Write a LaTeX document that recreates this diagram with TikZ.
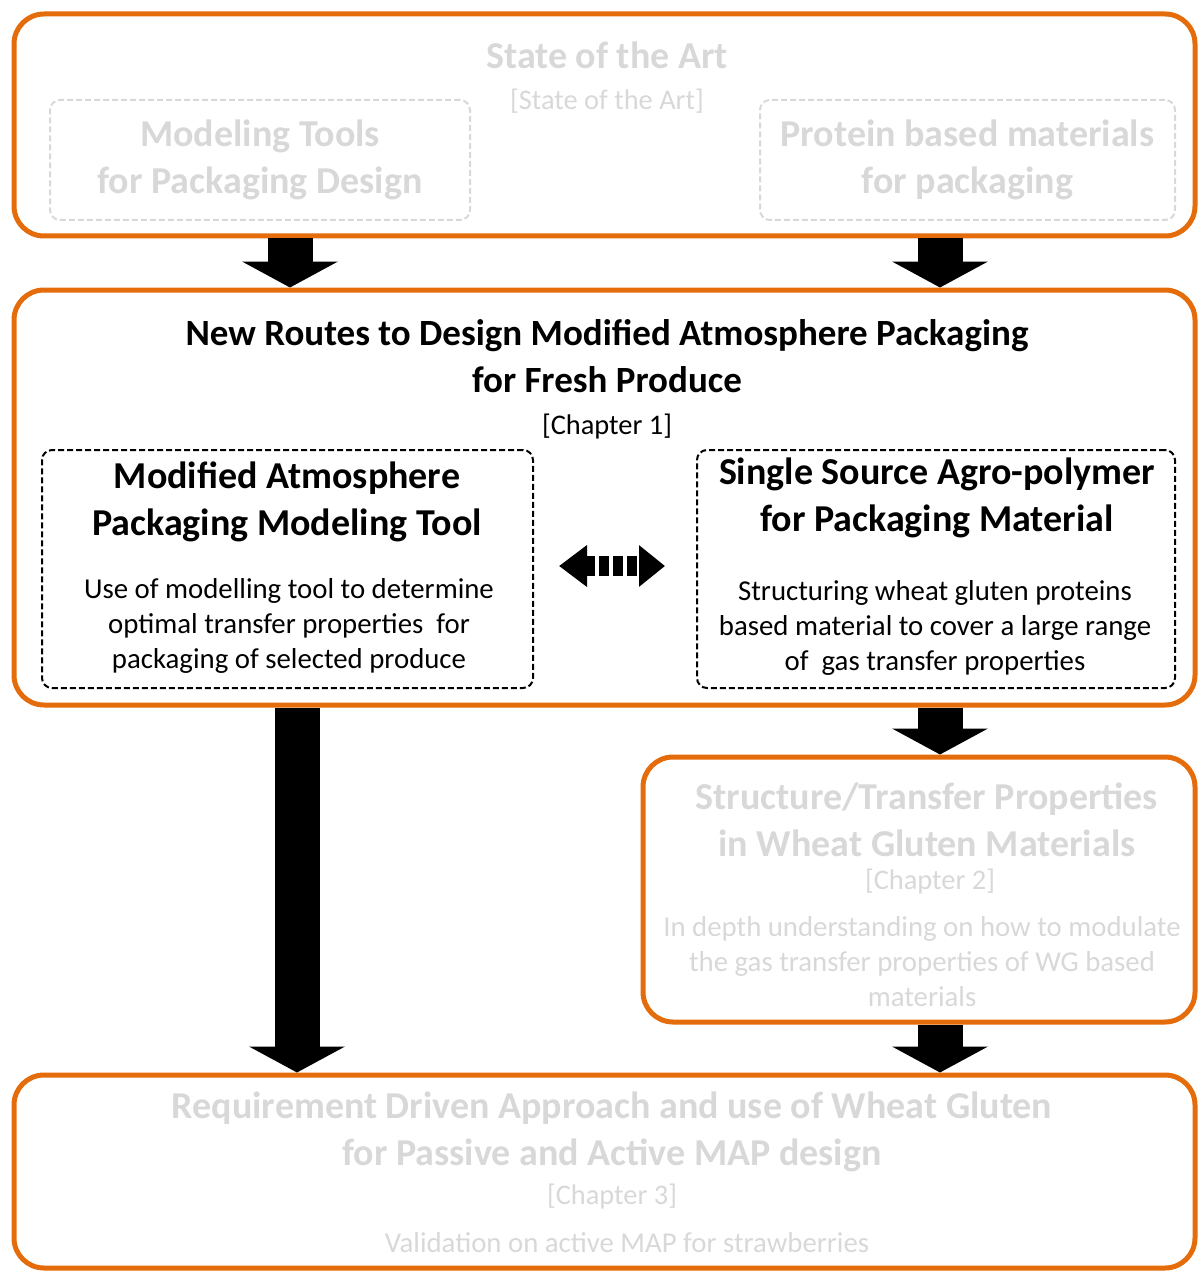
\documentclass[tikz,border=0pt]{standalone}
\usepackage{fontspec}
\setmainfont{Carlito}
\usetikzlibrary{arrows.meta,positioning}
\definecolor{mapOrange}{RGB}{228,108,10}
\definecolor{fadeGray}{RGB}{216,216,216}
\tikzset{
  chapbox/.style={draw=mapOrange, line width=2.5pt, rounded corners=15pt, inner sep=0pt},
  topicbox/.style={draw=black, line width=1pt, dash pattern=on 3pt off 1.5pt, rounded corners=5pt, inner sep=0pt},
  fadedbox/.style={topicbox, draw=fadeGray},
  headtxt/.style={align=center, font=\fontsize{19pt}{23.5pt}\selectfont\bfseries, inner sep=0pt},
  notetxt/.style={align=center, font=\fontsize{14.2pt}{16pt}\selectfont, inner sep=0pt},
  bodytxt/.style={align=center, font=\fontsize{14.4pt}{17.5pt}\selectfont, inner sep=0pt},
  faded/.style={text=fadeGray},
  bigarrow/.style={line width=22.5pt, -{Triangle[width=47.5pt,length=13pt]}},
  twoway/.style={line width=10pt, dash pattern=on 5pt off 2pt,
    {Triangle[width=20pt,length=14pt]}-{Triangle[width=20pt,length=13pt]}}
}
\begin{document}
\begin{tikzpicture}[x=0.5pt, y=-0.5pt]
  \useasboundingbox (0,0) rectangle (1203,1273);

  % state of the art
  \node[chapbox, minimum width=590.5pt, minimum height=111pt] (soa) at (604.5,125) {};
  \node[headtxt, faded] (soatitle) at (607,55) {State of the Art};
  \node[notetxt, faded] (soanote) at (607,101) {[State of the Art]};
  \node[fadedbox, minimum width=210pt, minimum height=60pt] (mtools) at (260,160) {};
  \node[headtxt, faded] at (mtools) {Modeling Tools\\for Packaging Design};
  \node[fadedbox, minimum width=207.5pt, minimum height=60pt] (pmat) at (967.5,160) {};
  \node[headtxt, faded] at (pmat) {Protein based materials\\for packaging};

  % chapter 1
  \node[chapbox, minimum width=590.5pt, minimum height=207.5pt] (newroutes) at (604.5,497.5) {};
  \node[headtxt, font=\fontsize{18.5pt}{23.5pt}\selectfont\bfseries] (nrtitle) at (607,356.5) {New Routes to Design Modified Atmosphere Packaging\\for Fresh Produce};
  \node[notetxt] (nrnote) at (607,427) {[Chapter 1]};
  \node[topicbox, minimum width=245.5pt, minimum height=119pt] (mapbox) at (287.5,569) {};
  \node[headtxt] (maptitle) at (287,502) {Modified Atmosphere\\Packaging Modeling Tool};
  \node[bodytxt] (mapbody) at (289,626) {Use of modelling tool to determine\\optimal transfer properties~ for\\packaging of selected produce};
  \node[topicbox, minimum width=239pt, minimum height=119pt] (agrobox) at (936,569) {};
  \node[headtxt] (agrotitle) at (937,498) {Single Source Agro-polymer\\for Packaging Material};
  \node[bodytxt] (agrobody) at (935,628) {Structuring wheat gluten proteins\\based material to cover a large range\\of~ gas transfer properties};

  % chapter 2
  \node[chapbox, minimum width=276pt, minimum height=132.5pt] (wgbox) at (919,889.5) {};
  \node[headtxt, faded] (wgtitle) at (927,820) {Structure/Transfer Properties\\in Wheat Gluten Materials};
  \node[notetxt, faded] (wgnote) at (930,882) {[Chapter 2]};
  \node[bodytxt, faded] (wgbody) at (922,962) {In depth understanding on how to modulate\\the gas transfer properties of WG based\\materials};

  % chapter 3
  \node[chapbox, minimum width=590.5pt, minimum height=96.5pt] (mapdesign) at (604.5,1171.5) {};
  \node[headtxt, faded] (mdtitle) at (612,1132) {Requirement Driven Approach and use of Wheat Gluten\\for Passive and Active MAP design};
  \node[notetxt, faded] (mdnote) at (612,1197) {[Chapter 3]};
  \node[bodytxt, faded] (mdbody) at (627,1243) {Validation on active MAP for strawberries};

  % arrows
  \coordinate (laneL) at (290,0);
  \coordinate (laneR) at (940,0);
  \coordinate (laneD) at (297,0);
  \draw[bigarrow] (soa.south -| laneL) -- (newroutes.north -| laneL);
  \draw[bigarrow] (soa.south -| laneR) -- (newroutes.north -| laneR);
  \draw[twoway] (mapbox.east) ++(25,-3) coordinate (dl) -- ([xshift=-15.5pt]agrobox.west |- dl);
  \draw[bigarrow] (newroutes.south -| laneD) -- (mapdesign.north -| laneD);
  \draw[bigarrow] (newroutes.south -| laneR) -- (wgbox.north -| laneR);
  \draw[bigarrow] (wgbox.south -| laneR) -- (mapdesign.north -| laneR);
\end{tikzpicture}
\end{document}
